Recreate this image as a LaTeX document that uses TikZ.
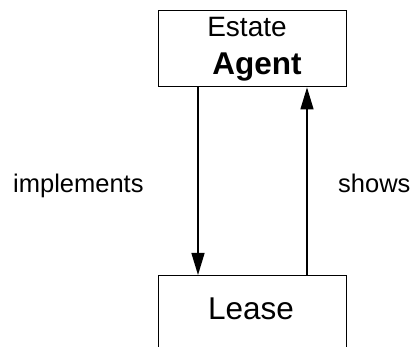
\documentclass[tikz,border=0pt]{standalone}
\usepackage{fontspec}
\setmainfont{Liberation Sans}
\usetikzlibrary{arrows.meta}
\begin{document}
\begin{tikzpicture}[x=1pt,y=-1pt,
  box/.style={draw=black,line width=1.4pt,fill=white,inner sep=0pt,anchor=north west},
  lbl/.style={inner sep=0pt,anchor=base west,font=\fontsize{25.5}{28}\selectfont},
  ttl/.style={inner sep=0pt,anchor=base},
  arr/.style={line width=1.4pt,-{Triangle[length=22pt,width=13pt]}}]
  \useasboundingbox (0,0) rectangle (413,347);
  \clip (0,0) rectangle (413,347);
  % class boxes
  \node[box,minimum width=188pt,minimum height=76pt] (ea) at (158,10) {};
  \node[box,minimum width=188pt,minimum height=100pt] (lease) at (158,275) {};
  % box titles
  \node[ttl,font=\fontsize{28}{32}\selectfont] (eat) at (247,37) {Estate};
  \node[ttl,font=\fontsize{31.5}{34}\selectfont\bfseries] (eab) at (257,75) {Agent};
  \node[ttl,font=\fontsize{31.5}{34}\selectfont] (lt) at (251,320) {Lease};
  % associations
  \draw[arr] ([xshift=40pt]ea.south west) -- ([xshift=40pt]lease.north west);
  \draw[arr] ([xshift=149pt]lease.north west) -- ([xshift=149pt]ea.south west);
  % association labels
  \node[lbl] (impl) at (13,193) {implements};
  \node[lbl] (shows) at (338,193) {shows};
\end{tikzpicture}
\end{document}
